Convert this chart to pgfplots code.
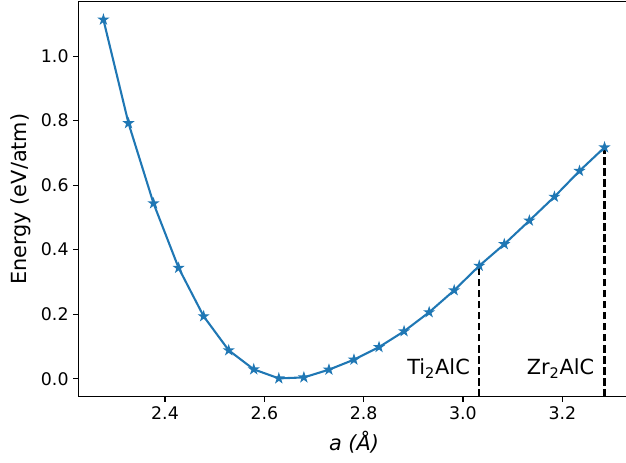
\documentclass[border=0pt]{standalone}
\usepackage{fontspec}
\setmainfont{DejaVu Sans}
\usepackage{pgfplots}
\pgfplotsset{compat=1.18}
\definecolor{mplblue}{HTML}{1F77B4}
\pgfdeclareplotmark{mplstar}{%
  \pgfpathmoveto{\pgfpointpolar{90}{\pgfplotmarksize}}%
  \pgfpathlineto{\pgfpointpolar{126}{0.382\pgfplotmarksize}}%
  \pgfpathlineto{\pgfpointpolar{162}{\pgfplotmarksize}}%
  \pgfpathlineto{\pgfpointpolar{198}{0.382\pgfplotmarksize}}%
  \pgfpathlineto{\pgfpointpolar{234}{\pgfplotmarksize}}%
  \pgfpathlineto{\pgfpointpolar{270}{0.382\pgfplotmarksize}}%
  \pgfpathlineto{\pgfpointpolar{306}{\pgfplotmarksize}}%
  \pgfpathlineto{\pgfpointpolar{342}{0.382\pgfplotmarksize}}%
  \pgfpathlineto{\pgfpointpolar{18}{\pgfplotmarksize}}%
  \pgfpathlineto{\pgfpointpolar{54}{0.382\pgfplotmarksize}}%
  \pgfpathclose
  \pgfusepathqfillstroke}
\begin{document}
\begin{tikzpicture}
\useasboundingbox (-56.4pt,-47.7pt) rectangle (394.3pt,285.6pt);
\begin{axis}[
  scale only axis,
  width=396.9pt, height=284.4pt,
  xmin=2.2255, xmax=3.3355, ymin=-0.0557, ymax=1.1687,
  axis line style={line width=0.8pt, black},
  tick style={line width=0.8pt, black},
  major tick length=3.5pt,
  tick align=outside,
  xtick={2.4,2.6,2.8,3.0,3.2},
  ytick={0,0.2,0.4,0.6,0.8,1.0},
  xtick pos=bottom, ytick pos=left,
  minor tick num=0,
  tick label style={font=\fontsize{12.5}{15}\selectfont},
  /pgf/number format/.cd, fixed, fixed zerofill, precision=1, assume math mode=true,
  /pgfplots/.cd,
  xlabel={\textit{a (Å)}},
  ylabel={Energy (eV/atm)},
  label style={font=\fontsize{15}{18}\selectfont},
  xlabel style={at={(axis description cs:0.5,-0.116)}, anchor=center},
  ylabel style={at={(axis description cs:-0.1053,0.5)}, anchor=center},
]
\addplot[black, line width=1.5pt, dash pattern=on 5.55pt off 2.4pt] coordinates {(3.0328,-0.0557) (3.0328,0.350)};
\addplot[black, line width=1.5pt, dash pattern=on 5.55pt off 2.4pt] coordinates {(3.2850,-0.0557) (3.2850,0.717)};
\addplot[mplblue, line width=1.5pt, mark=mplstar, mark size=3pt, mark options={solid, fill=mplblue, line width=1pt}] coordinates {
(2.2760,1.113)
(2.3265,0.792)
(2.3769,0.5435)
(2.4274,0.3435)
(2.4778,0.1935)
(2.5283,0.088)
(2.5787,0.029)
(2.6292,0.001)
(2.6796,0.004)
(2.7301,0.028)
(2.7805,0.059)
(2.8310,0.098)
(2.8814,0.147)
(2.9319,0.206)
(2.9823,0.274)
(3.0328,0.350)
(3.0832,0.417)
(3.1337,0.490)
(3.1841,0.564)
(3.2346,0.644)
(3.2850,0.717)
};
\node[anchor=base east, inner sep=0pt, font=\fontsize{15}{18}\selectfont] at (axis cs:3.0143,0.0124) {Ti\textsubscript{2}AlC};
\node[anchor=base east, inner sep=0pt, font=\fontsize{15}{18}\selectfont] at (axis cs:3.2647,0.0124) {Zr\textsubscript{2}AlC};
\end{axis}
\end{tikzpicture}
\end{document}
